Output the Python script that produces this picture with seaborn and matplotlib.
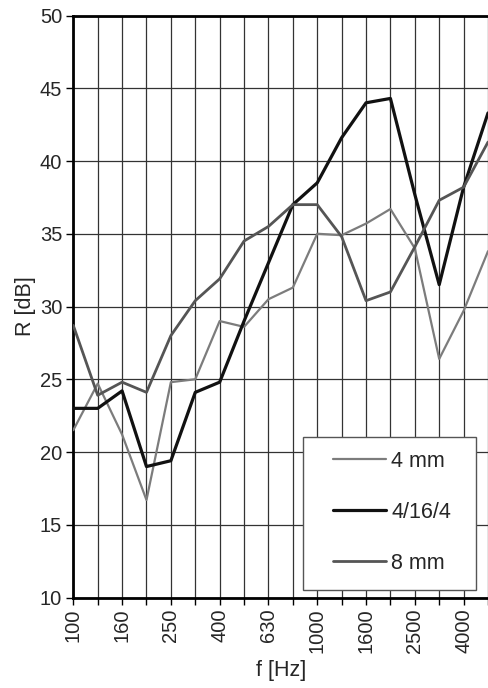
import numpy as np
import pandas as pd
import seaborn as sns
import matplotlib
matplotlib.use("Agg")
import matplotlib.pyplot as plt
from matplotlib.patches import Rectangle

freqs = [100, 125, 160, 200, 250, 315, 400, 500, 630, 800, 1000, 1250,
         1600, 2000, 2500, 3150, 4000, 5000]
r_4mm = [21.5, 24.7, 21.2, 16.7, 24.8, 25.0, 29.0, 28.6, 30.5, 31.3, 35.0,
         34.9, 35.7, 36.7, 34.0, 26.4, 29.7, 33.8]
r_4164 = [23.0, 23.0, 24.2, 19.0, 19.4, 24.1, 24.8, 29.0, 33.0, 37.0, 38.5,
          41.6, 44.0, 44.3, 37.7, 31.5, 38.2, 43.3]
r_8mm = [28.7, 23.9, 24.8, 24.1, 28.0, 30.4, 31.9, 34.5, 35.5, 37.0, 37.0,
         34.8, 30.4, 31.0, 34.1, 37.3, 38.2, 41.3]
series_names = ["4 mm", "4/16/4", "8 mm"]
xlabel = "f [Hz]"
ylabel = "R [dB]"

rows = []
for name, vals in zip(series_names, [r_4mm, r_4164, r_8mm]):
    for i, (f, v) in enumerate(zip(freqs, vals)):
        rows.append({"idx": i, "freq": f, "R": v, "series": name})
df = pd.DataFrame(rows)

sns.set_theme(style="white")
plt.rcParams["font.family"] = ["Liberation Sans", "DejaVu Sans"]

W, H = 488, 688
fig = plt.figure(figsize=(W / 100, H / 100), dpi=100)
x0, x1 = 73.3, 488.0
ytop, ybot = 15.5, 597.5
ax = fig.add_axes([x0 / W, 1 - ybot / H, (x1 - x0) / W, (ybot - ytop) / H])

palette = {"4 mm": "#7c7c7c", "4/16/4": "#111111", "8 mm": "#555555"}
widths = {"4 mm": 1.6, "4/16/4": 2.3, "8 mm": 2.0}
for name in series_names:
    sub = df[df["series"] == name]
    sns.lineplot(data=sub, x="idx", y="R", ax=ax, color=palette[name],
                 linewidth=widths[name], label=name, zorder=3)

n = len(freqs)
ax.set_xlim(0, (x1 - x0) / 24.525)
ax.set_ylim(10, 50)
ax.set_xticks(range(n))
ax.set_xticklabels([str(f) if i % 2 == 0 else "" for i, f in enumerate(freqs)],
                   rotation=90, fontsize=14.5)
ax.set_yticks(np.arange(10, 51, 5))
ax.set_yticklabels([str(v) for v in range(10, 51, 5)], fontsize=14.5)
ax.grid(True, color="#333333", linewidth=0.9)
ax.set_axisbelow(True)
ax.tick_params(axis="both", direction="out", length=5, width=1, color="black",
               bottom=True, left=True, pad=3)
for s in ["left", "bottom", "top"]:
    ax.spines[s].set_color("black")
    ax.spines[s].set_linewidth(2)
ax.spines["right"].set_visible(False)

ax.set_xlabel(xlabel, fontsize=15.5, labelpad=5)
ax.set_ylabel(ylabel, fontsize=15.5, labelpad=3)

aw, ah = x1 - x0, ybot - ytop
def ax_frac(px, py):
    return ((px - x0) / aw, (ybot - py) / ah)

bx, by = ax_frac(302.7, 590)
bx2, by2 = ax_frac(476, 436.7)
ax.add_patch(Rectangle((bx, by), bx2 - bx, by2 - by, transform=ax.transAxes,
                       facecolor="white", edgecolor="#555555", linewidth=1.0,
                       zorder=4.5, clip_on=False))
lx, ly = ax_frac(332.7, 451)
leg = ax.legend(loc="upper left", bbox_to_anchor=(lx, ly), frameon=False,
                fontsize=15.5, borderpad=0, borderaxespad=0, handlelength=2.46,
                handletextpad=0.27, labelspacing=1.39)
leg.set_zorder(5)

fig.savefig("out.png", dpi=100)
